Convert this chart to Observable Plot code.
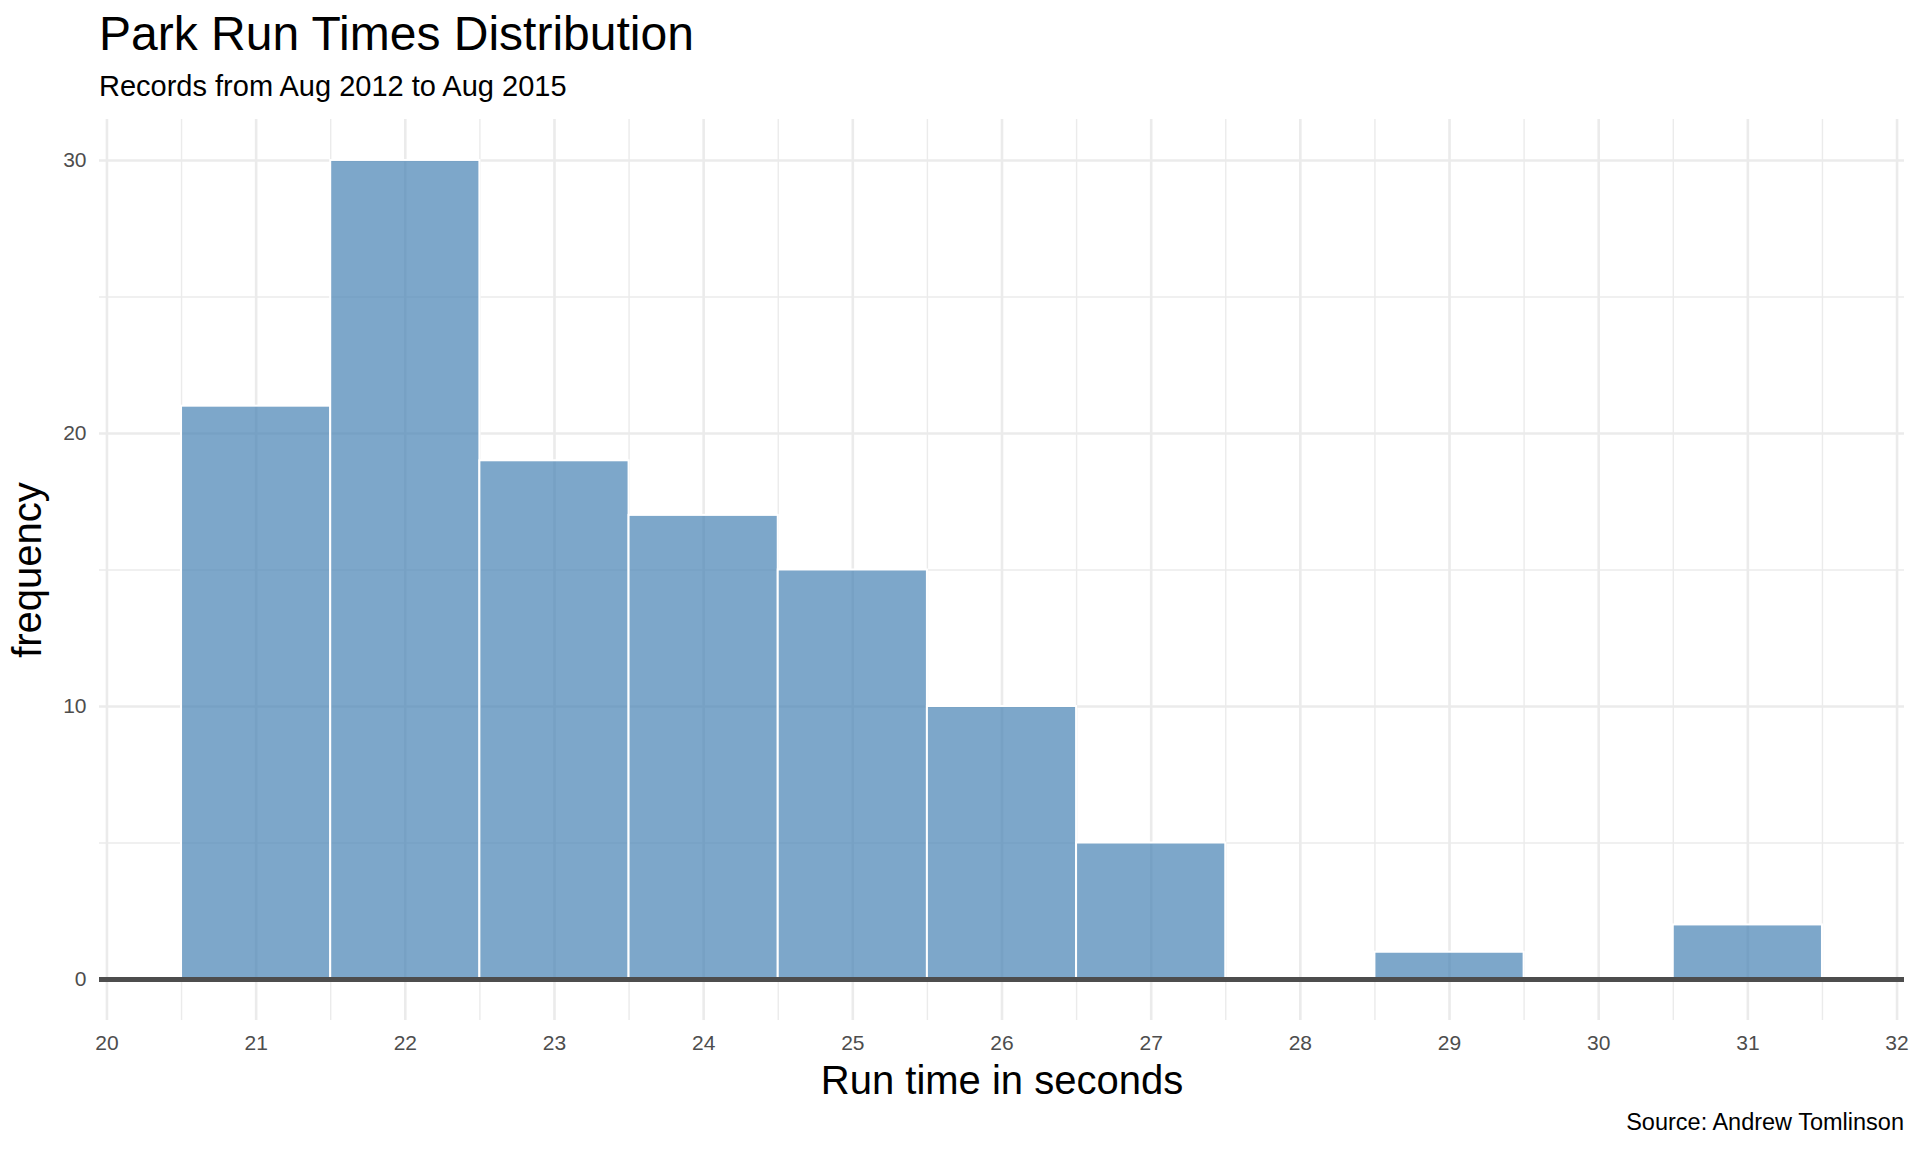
<!DOCTYPE html>
<html>
<head>
<meta charset="utf-8">
<script src="https://cdn.jsdelivr.net/npm/d3@7"></script>
<script src="https://cdn.jsdelivr.net/npm/@observablehq/plot@0.6"></script>
<style>
  html, body { margin: 0; padding: 0; background: #fff; }
  body { width: 1920px; height: 1152px; overflow: hidden; position: relative;
         font-family: "Liberation Sans", Arial, Helvetica, sans-serif; }
  .t { position: absolute; line-height: 1; white-space: nowrap; color: #000; }
  #title { left: 99px; top: 10px; font-size: 48px; }
  #subtitle { left: 99px; top: 72px; font-size: 29px; }
  #caption { right: 16px; top: 1111px; font-size: 23.5px; }
  #chart { position: absolute; left: 0; top: 105px; }
</style>
</head>
<body>
<div id="title" class="t">Park Run Times Distribution</div>
<div id="subtitle" class="t">Records from Aug 2012 to Aug 2015</div>
<div id="chart"></div>
<div id="caption" class="t">Source: Andrew Tomlinson</div>
<script>
// Histogram bins (centre of each 1-second bin) and counts
const binCenters = [21, 22, 23, 24, 25, 26, 27, 28, 29, 30, 31];
const counts     = [21, 30, 19, 17, 15, 10,  5,  0,  1,  0,  2];
const binWidth = 1;

// Tick / grid values
const xMajorTicks = [20, 21, 22, 23, 24, 25, 26, 27, 28, 29, 30, 31, 32];
const xMinorTicks = [20.5, 21.5, 22.5, 23.5, 24.5, 25.5, 26.5, 27.5, 28.5, 29.5, 30.5, 31.5];
const yMajorTicks = [0, 10, 20, 30];
const yMinorTicks = [5, 15, 25];

const xTitle = "Run time in seconds";
const yTitle = "frequency";

const bins = binCenters.map((c, i) => ({x0: c - binWidth / 2, x1: c + binWidth / 2, count: counts[i]}));

const gridColor = "#ebebeb";
const tickColor = "#4d4d4d";

const chart = Plot.plot({
  width: 1920,
  height: 1005,
  marginTop: 14,
  marginBottom: 90,
  marginLeft: 99,
  marginRight: 16,
  style: {fontFamily: '"Liberation Sans", Arial, Helvetica, sans-serif', background: "#fff"},
  x: {domain: [19.95, 32.05], label: null},
  y: {domain: [-1.5, 31.5], label: null},
  marks: [
    Plot.gridX({ticks: xMinorTicks, stroke: gridColor, strokeOpacity: 1, strokeWidth: 1.4}),
    Plot.gridY({ticks: yMinorTicks, stroke: gridColor, strokeOpacity: 1, strokeWidth: 1.4}),
    Plot.gridX({ticks: xMajorTicks, stroke: gridColor, strokeOpacity: 1, strokeWidth: 2.6}),
    Plot.gridY({ticks: yMajorTicks, stroke: gridColor, strokeOpacity: 1, strokeWidth: 2.6}),
    Plot.rectY(bins, {x1: "x0", x2: "x1", y1: 0, y2: "count", fill: "steelblue", fillOpacity: 0.7,
                      stroke: "white", strokeWidth: 2}),
    Plot.ruleY([0], {stroke: tickColor, strokeWidth: 5}),
    Plot.axisX({ticks: xMajorTicks, tickSize: 0, tickPadding: 15, fontSize: 21, color: tickColor,
                label: null, tickFormat: d => String(d)}),
    Plot.axisY({ticks: yMajorTicks, tickSize: 0, tickPadding: 13, fontSize: 21, color: tickColor,
                label: null, tickFormat: d => String(d)}),
    Plot.text([xTitle], {frameAnchor: "bottom", dy: 73, lineAnchor: "bottom", textAnchor: "middle",
                         fontSize: 40, fill: "#000"}),
    Plot.text([yTitle], {frameAnchor: "left", dx: -59, rotate: -90, lineAnchor: "bottom", textAnchor: "middle",
                         fontSize: 40, fill: "#000"})
  ]
});
document.getElementById("chart").appendChild(chart);
</script>
</body>
</html>
